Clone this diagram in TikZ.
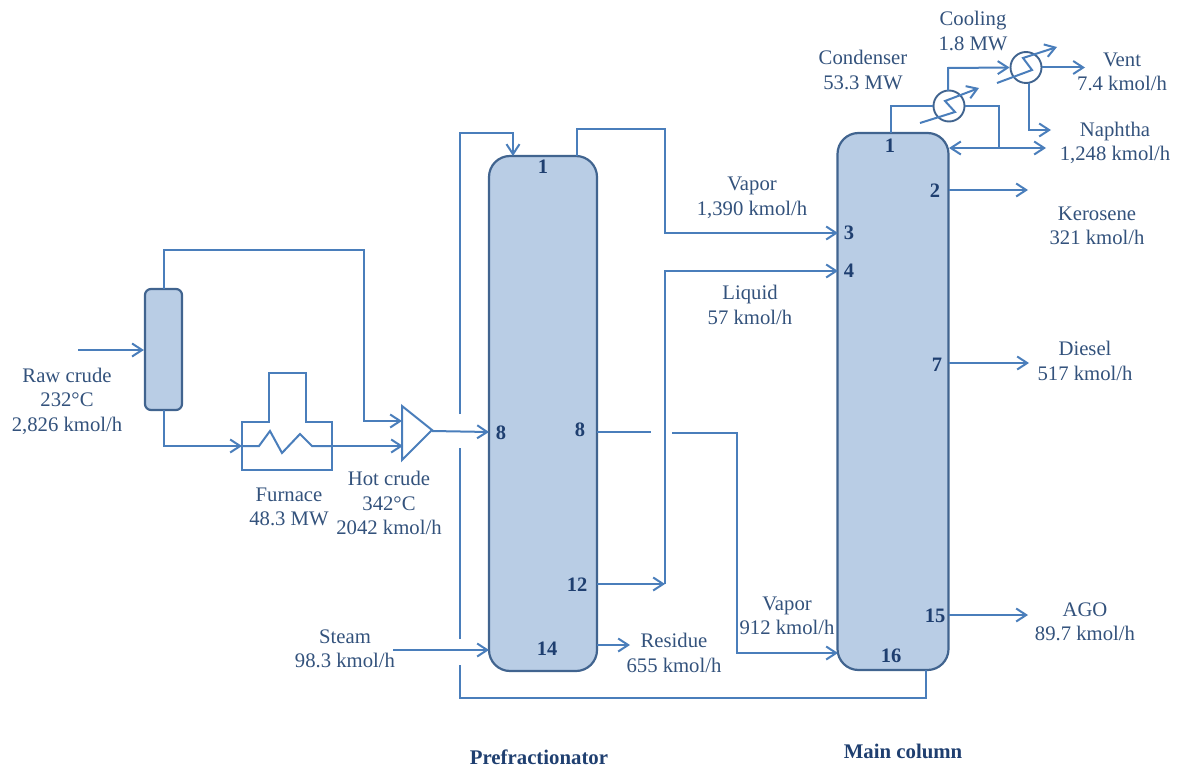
\documentclass[tikz,border=0pt]{standalone}
\usepackage{fontspec}
\setmainfont{Liberation Serif}
\usetikzlibrary{arrows.meta}
\definecolor{lineblue}{HTML}{4A7EBB}
\definecolor{edgeblue}{HTML}{41648F}
\definecolor{fillblue}{HTML}{B9CDE5}
\definecolor{txtblue}{HTML}{33527C}
\definecolor{numblue}{HTML}{1F3F70}
\tikzset{
  pipe/.style={draw=lineblue,line width=2pt,line join=miter},
  flow/.style={pipe,-{Straight Barb[length=10pt,width=13pt,line width=2pt]}},
  flowboth/.style={pipe,{Straight Barb[length=10pt,width=13pt,line width=2pt]}-{Straight Barb[length=10pt,width=13pt,line width=2pt]}},
  column/.style={draw=edgeblue,fill=fillblue,line width=2.2pt,rounded corners=21pt,inner sep=0pt},
  lbl/.style={text=txtblue,align=center,font=\fontsize{20.7}{24.5}\selectfont,inner sep=0pt},
  num/.style={text=numblue,font=\fontsize{20.5}{22}\selectfont\bfseries,inner sep=0pt},
  titlelbl/.style={text=numblue,font=\fontsize{20.8}{22}\selectfont\bfseries,inner sep=0pt},
  hx/.style={circle,draw=edgeblue,line width=1.9pt,minimum size=31pt,inner sep=0pt}
}
\begin{document}
\begin{tikzpicture}[x=1pt,y=-1pt]
\useasboundingbox (0,0) rectangle (1180,770);
% vessels
\node[column,minimum width=108pt,minimum height=515pt] (pre) at (543,413.5) {};
\node[column,minimum width=111pt,minimum height=537pt] (main) at (893,401.5) {};
\node[column,rounded corners=6pt,minimum width=37pt,minimum height=121pt] (drum) at (163.5,349.5) {};
% furnace
\coordinate (fL) at (242,446); \coordinate (fR) at (332,446);
\draw[pipe] (242,470) -- (332,470) -- (332,422) -- (306,422) -- (306,373) -- (269,373) -- (269,422) -- (242,422) -- cycle;
\draw[pipe] (fL) -- (259,446) -- (270,431) -- (282,453) -- (300,434) -- (312,446) -- (fR);
% mixer
\draw[pipe] (402,406) -- (432,430) -- (402,460) -- cycle;
\coordinate (mixTop) at (402,421); \coordinate (mixLow) at (403,446); \coordinate (mixOut) at (432,431);
% exchangers
\node[hx] (cond) at (949,106) {};
\node[hx] (cool) at (1026,67.5) {};
\draw[flow] (920,123) -- (955,112) -- (945,101) -- (979,88);
\draw[flow] (997,83) -- (1032,70) -- (1023,58) -- (1057,47);
% feed
\coordinate (rawIn) at (78,350);
\draw[flow] (rawIn) -- (drum.west |- rawIn);
\draw[flow] (164,289) -- (164,250) -- (364,250) -- (364,421) -- (mixTop);
\draw[flow] (164,410) -- (164,446) -- (fL);
\draw[flow] (fR) -- (mixLow);
\draw[flow] (mixOut) -- (489,432);
% recycle
\draw[flow] (460,414) -- (460,133) -- (513,133) -- (513,156);
\draw[pipe] (460,448) -- (460,639);
\draw[pipe] (926,670) -- (926,698) -- (460,698) -- (460,665);
\draw[flow] (393,650) -- (489,650);
% inter column
\draw[flow] (577,156) -- (577,129) -- (665,129) -- (665,233) -- (838,233);
\draw[flow] (597,584) -- (665,584);
\draw[flow] (665,584) -- (665,271) -- (838,271);
\draw[pipe] (597,432) -- (651,432);
\draw[flow] (672,433) -- (737,433) -- (737,653) -- (838,653);
\draw[flow] (597,645) -- (630,645);
% main column
\draw[flow] (949,190) -- (1028,190);
\draw[flow] (949,363) -- (1029,363);
\draw[flow] (949,615) -- (1028,615);
\draw[pipe] (891,133) -- (891,106) -- (cond.west);
\draw[pipe] (cond.east) -- (999,106) -- (999,148);
\draw[flowboth] (949,148) -- (1046,148);
\draw[flow] (948,91) -- (948,68) -- (cool.west);
\draw[flow] (cool.east) -- (1085,67.5);
\draw[flow] (1029,83) -- (1029,130) -- (1051,130);
% stage numbers
\node[num] (p1) at (543,167) {1};
\node[num] (p8l) at (501,433) {8};
\node[num] (p8r) at (580,430) {8};
\node[num] (p12) at (577,585) {12};
\node[num] (p14) at (547,649) {14};
\node[num] (m1) at (890,146) {1};
\node[num] (m2) at (935,191) {2};
\node[num] (m3) at (849,233) {3};
\node[num] (m4) at (849,271) {4};
\node[num] (m7) at (937,365) {7};
\node[num] (m15) at (935,616) {15};
\node[num] (m16) at (891,656) {16};
% labels
\node[lbl] (lraw) at (67,401) {Raw crude\\232°C\\2,826 kmol/h};
\node[lbl] (lfur) at (289,507) {Furnace\\48.3 MW};
\node[lbl] (lhot) at (389,503) {Hot crude\\342°C\\2042 kmol/h};
\node[lbl] (lsteam) at (345,649) {Steam\\98.3 kmol/h};
\node[lbl] (lres) at (674,653) {Residue\\655 kmol/h};
\node[lbl] (lvap1) at (752,198) {Vapor\\1,390 kmol/h};
\node[lbl] (lliq) at (750,305) {Liquid\\57 kmol/h};
\node[lbl] (lvap2) at (787,616) {Vapor\\912 kmol/h};
\node[lbl] (lcon) at (863,70) {Condenser\\53.3 MW};
\node[lbl] (lcool) at (973,31) {Cooling\\1.8 MW};
\node[lbl] (lvent) at (1122,72) {Vent\\7.4 kmol/h};
\node[lbl] (lnap) at (1115,143) {Naphtha\\1,248 kmol/h};
\node[lbl] (lker) at (1097,226) {Kerosene\\321 kmol/h};
\node[lbl] (ldie) at (1085,361) {Diesel\\517 kmol/h};
\node[lbl] (lago) at (1085,622) {AGO\\89.7 kmol/h};
\node[titlelbl] (cpre) at (539,757) {Prefractionator};
\node[titlelbl] (cmain) at (903,751) {Main column};
\end{tikzpicture}
\end{document}
